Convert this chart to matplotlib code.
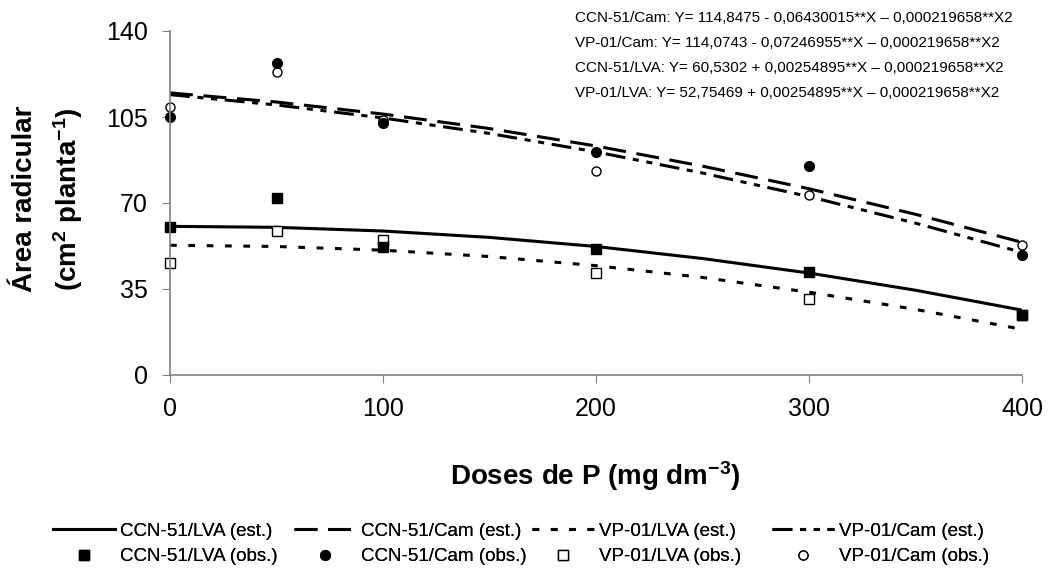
import matplotlib
matplotlib.use('Agg')
import matplotlib.pyplot as plt

plt.rcParams['font.family'] = ['Liberation Sans', 'DejaVu Sans']
plt.rcParams['mathtext.fontset'] = 'custom'
plt.rcParams['mathtext.rm'] = 'Liberation Sans:bold'
plt.rcParams['mathtext.bf'] = 'Liberation Sans:bold'
plt.rcParams['mathtext.default'] = 'bf'

# fitted curves
x_est = [0, 50, 100, 150, 200, 250, 300, 350, 400]
ccn_lva_est = [60.5, 60.1, 58.6, 56.0, 52.3, 47.4, 41.5, 34.5, 26.4]
ccn_cam_est = [114.8, 111.1, 106.2, 100.3, 93.2, 85.0, 75.8, 65.4, 54.0]
vp_lva_est = [52.8, 52.3, 50.8, 48.2, 44.5, 39.7, 33.7, 26.7, 18.6]
vp_cam_est = [114.1, 109.9, 104.6, 98.3, 90.8, 82.2, 72.6, 61.8, 49.9]

# observed values
x_obs = [0, 50, 100, 200, 300, 400]
ccn_lva_obs = [60.1, 71.9, 52.2, 51.3, 41.8, 24.4]
ccn_cam_obs = [105.1, 126.9, 102.7, 90.8, 85.2, 48.8]
vp_lva_obs = [45.5, 58.6, 55.0, 41.5, 30.8, 24.4]
vp_cam_obs = [109.1, 123.2, 103.8, 83.0, 73.3, 52.9]

equations = [
    "CCN-51/Cam: Y= 114,8475 - 0,06430015**X \u2013 0,000219658**X2",
    "VP-01/Cam: Y= 114,0743 - 0,07246955**X \u2013 0,000219658**X2",
    "CCN-51/LVA: Y= 60,5302 + 0,00254895**X \u2013 0,000219658**X2",
    "VP-01/LVA: Y= 52,75469 + 0,00254895**X \u2013 0,000219658**X2",
]

W, H = 1050, 575
fig = plt.figure(figsize=(W / 100, H / 100), dpi=100)
ax = fig.add_axes([170 / W, 1 - 375 / H, 852 / W, 344 / H])

lw = 2.2
l1, = ax.plot(x_est, ccn_lva_est, color='black', lw=lw, ls='-')
l2, = ax.plot(x_est, ccn_cam_est, color='black', lw=lw, ls=(0, (7.5, 3.5)))
l3, = ax.plot(x_est, vp_lva_est, color='black', lw=lw, ls=(0, (2.2, 3.8)))
l4, = ax.plot(x_est, vp_cam_est, color='black', lw=lw,
              ls=(0, (6.5, 2.5, 2, 2.5, 2, 2.5)))

# open markers first so the filled ones sit on top where they overlap
m3, = ax.plot(x_obs, vp_lva_obs, 's', mfc='white', mec='black', mew=1, ms=6.5,
              ls='none', clip_on=False)
m4, = ax.plot(x_obs, vp_cam_obs, 'o', mfc='white', mec='black', mew=1, ms=6.5,
              ls='none', clip_on=False)
m1, = ax.plot(x_obs, ccn_lva_obs, 's', color='black', ms=7, ls='none', clip_on=False)
m2, = ax.plot(x_obs, ccn_cam_obs, 'o', color='black', ms=7, ls='none', clip_on=False)

ax.set_xlim(0, 400)
ax.set_ylim(0, 140)
ax.set_xticks([0, 100, 200, 300, 400])
ax.set_yticks([0, 35, 70, 105, 140])
ax.tick_params(labelsize=18, direction='out', length=6, color='#808080', pad=10)
for s in ['top', 'right']:
    ax.spines[s].set_visible(False)
for s in ['left', 'bottom']:
    ax.spines[s].set_color('#808080')
    ax.spines[s].set_linewidth(1.2)

# axis titles
fig.text(25 / W, 1 - 199 / H, "Área radicular", rotation=90, fontsize=20,
         fontweight='bold', ha='center', va='center')
fig.text(68 / W, 1 - 199 / H, "(cm$^{2}$ planta$^{-1}$)", rotation=90, fontsize=20,
         fontweight='bold', ha='center', va='center')
fig.text(595 / W, 1 - 476 / H, "Doses de P (mg dm$^{-3}$)", fontsize=20,
         fontweight='bold', ha='center', va='center')

for i, eq in enumerate(equations):
    fig.text(575 / W, 1 - (18 + 25 * i) / H, eq, fontsize=11, va='center', ha='left')

pairs = [(l1, m1, 'CCN-51/LVA'), (l2, m2, 'CCN-51/Cam'),
         (l3, m3, 'VP-01/LVA'), (l4, m4, 'VP-01/Cam')]
col_x = [53, 294, 532, 772]
for (ln, mk, name), cx in zip(pairs, col_x):
    leg = fig.legend([ln, mk], [name + ' (est.)', name + ' (obs.)'],
                     loc='center left', bbox_to_anchor=(cx / W, 1 - 544 / H),
                     frameon=False, fontsize=13.5, handlelength=3.3,
                     handletextpad=0.25, labelspacing=0.45, borderpad=0,
                     borderaxespad=0)
    fig.add_artist(leg)

fig.savefig('out.png', dpi=100)
